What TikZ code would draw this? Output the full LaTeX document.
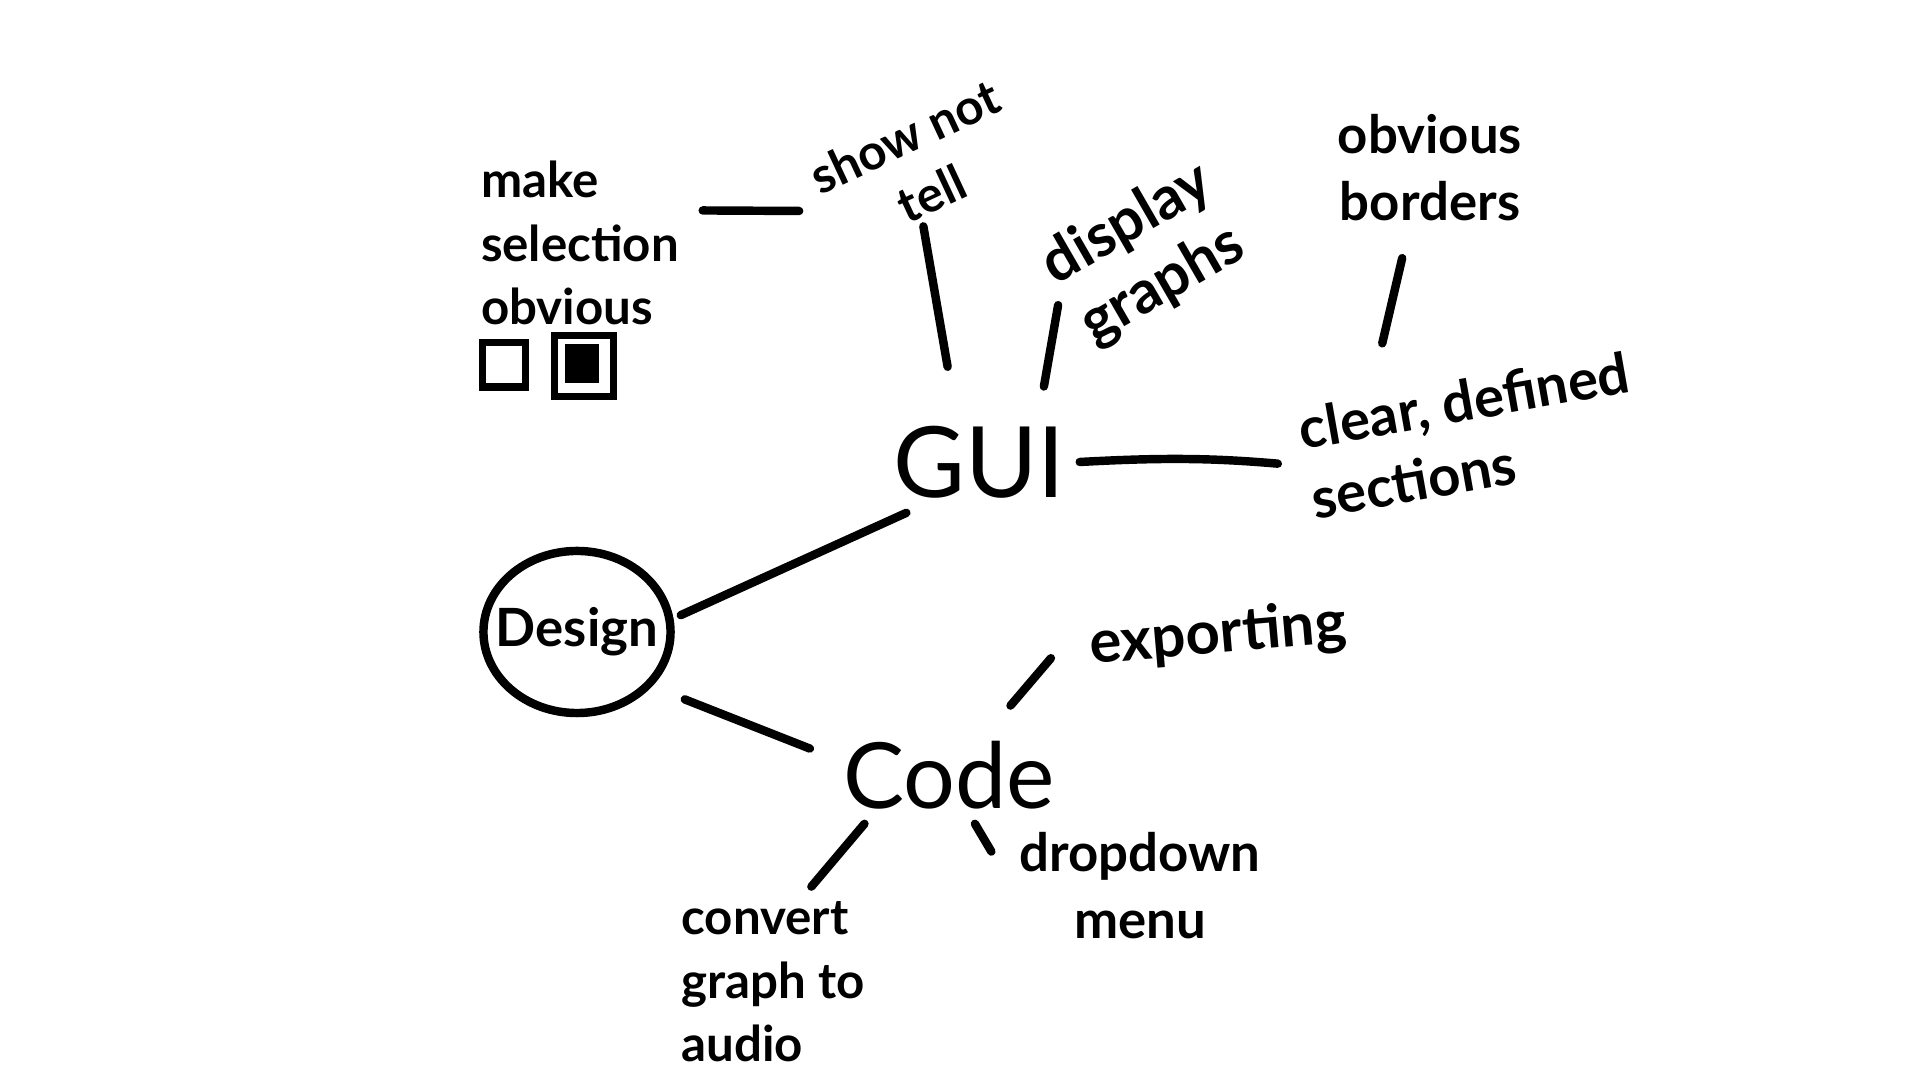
\documentclass[tikz,border=0pt]{standalone}
\usepackage{fontspec}
\setmainfont{Lato}
\usetikzlibrary{shapes.geometric,positioning}
\tikzset{
  idea/.style={font=\bfseries\fontsize{14}{18}\selectfont, align=center, inner sep=2pt},
  hub/.style={inner sep=4pt},
  link/.style={line width=2.4pt, line cap=round},
  tickbox/.style={draw, line width=2pt, inner sep=0pt}
}

\begin{document}
\begin{tikzpicture}[x=0.01cm,y=-0.01cm]
\useasboundingbox (0,0) rectangle (1920,1080);

% Centre
\node[draw, ellipse, line width=2.4pt, inner xsep=-2mm, inner ysep=0pt, minimum width=1.87cm, minimum height=1.62cm, font=\bfseries\fontsize{15}{18}\selectfont] (design) at (577,632) {Design};

% Main branches
\node[hub, font=\fontsize{28}{30}\selectfont] (gui) at (979,462) {GUI};
\node[hub, font=\fontsize{26}{28}\selectfont] (code) at (949,775) {Code};

% GUI ideas
\node[idea, align=left] (selection) at (580,243) {make\\selection\\obvious};
\node[idea, rotate=25] (show) at (918,165) {show not\\tell};
\node[idea, rotate=30, font=\bfseries\fontsize{17}{20}\selectfont] (display) at (1145,255) {display\\graphs};
\node[idea, font=\bfseries\fontsize{15}{19}\selectfont] (borders) at (1430,168) {obvious\\borders};
\node[idea, rotate=10, align=left, font=\bfseries\fontsize{16}{20}\selectfont] (sections) at (1470,435) {clear, defined\\sections};

% Check boxes
\node[tickbox, minimum width=.43cm, minimum height=.44cm] (unticked) at (504,365) {};
\node[tickbox, minimum width=.59cm, minimum height=.61cm] (ticked) at (584,366) {};
\node[fill, inner sep=0pt, minimum width=.34cm, minimum height=.39cm] (tickmark) at (582,364) {};

% Code ideas
\node[idea, rotate=5, font=\bfseries\fontsize{17}{20}\selectfont] (exporting) at (1218,636) {exporting};
\node[idea, font=\bfseries\fontsize{15}{19}\selectfont] (dropdown) at (1140,886) {dropdown\\menu};
\node[idea, align=left] (audio) at (773,982) {convert\\graph to\\audio};

% Links
\draw[link, shorten <=.08cm] (design.8) -- (gui.215);
\draw[link, shorten <=.35cm, shorten >=.2cm] (design.-36) -- (code.171);
\draw[link, shorten <=.16cm, shorten >=.2cm] (selection.17) -- (show.west);
\draw[link, shorten >=.45cm] (show.250) -- (gui.115);
\draw[link, shorten >=.25cm] (display.west) -- (gui.40);
\draw[link, shorten <=.3cm, shorten >=.45cm] (borders.-109) -- (sections.144);
\draw[link, shorten >=.2cm] (gui.east) to[bend left=4] (sections.west);
\draw[link, shorten <=.27cm, shorten >=.45cm] (code.48) -- (exporting.170);
\draw[link, shorten >=.4cm] (code.-62) -- (dropdown.west);
\draw[link, shorten >=.1cm] (code.-150) -- (audio.70);
\end{tikzpicture}
\end{document}
